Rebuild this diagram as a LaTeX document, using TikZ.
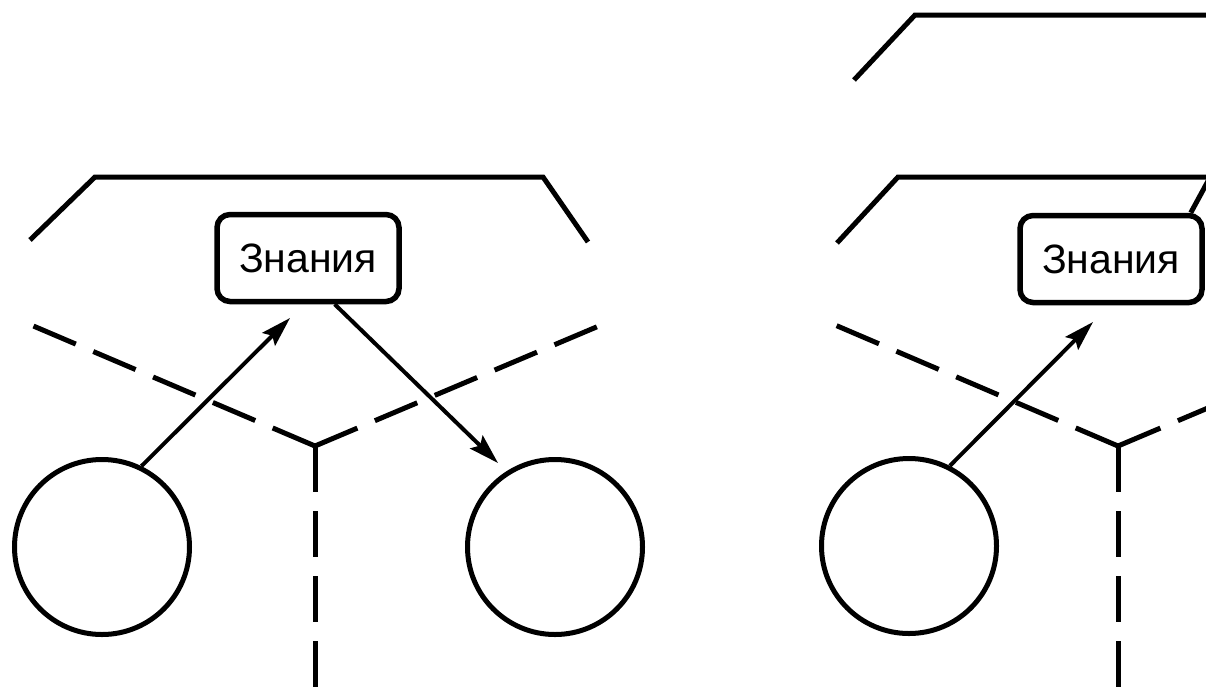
\documentclass[tikz,border=0pt]{standalone}
\usepackage{fontspec}
\setmainfont{Liberation Sans}
\usetikzlibrary{arrows.meta,calc}
\begin{document}
\begin{tikzpicture}[x=1pt,y=-1pt,
  solidline/.style={line width=5pt},
  dashline/.style={line width=5pt, dash pattern=on 46pt off 19pt},
  knowbox/.style={draw, line width=5.5pt, rounded corners=13pt, minimum width=182pt, minimum height=87pt, inner sep=0pt, font=\fontsize{41}{45}\selectfont},
  agent/.style={draw, circle, line width=5pt, minimum size=175pt, inner sep=0pt},
  arr/.style={line width=4pt, -{Stealth[length=30pt,width=18pt,inset=5pt]}}
]
\useasboundingbox (0,0) rectangle (1206,691);
\clip (0,0) rectangle (1206,691);

% knowledge boxes
\node[knowbox] (k1) at (308,258) {Знания};
\node[knowbox] (k2) at (1111,259) {Знания};

% agents
\node[agent] (c1) at (102,547) {};
\node[agent] (c2) at (555,547) {};
\node[agent] (c3) at (909,546) {};

% solid boundary lines
\draw[solidline] (30,240) -- (95,177) -- (543,177) -- (588,242);
\draw[solidline] (854,80) -- (915,15) -- (1215,15);
\draw[solidline] (837,243) -- (898,177) -- (1215,177);
\coordinate (e1) at (1214,170);
\draw[solidline] ($(k2.north east)+(-14,0)$) -- (e1);

% dashed partitions
\coordinate (v1) at (315,446);
\coordinate (l1) at (24,322);
\coordinate (r1) at (613,320);
\coordinate (b1) at (315,700);
\draw[dashline] (v1) -- (l1);
\draw[dashline] (v1) -- (r1);
\draw[dashline] (v1) -- (b1);
\coordinate (v2) at (1118,446);
\coordinate (l2) at (828,322);
\coordinate (r2) at (1215,405);
\coordinate (b2) at (1118,700);
\draw[dashline] (v2) -- (l2);
\draw[dashline] (v2) -- (r2);
\draw[dashline] (v2) -- (b2);

% arrows
\coordinate (t1) at (290,318);
\draw[arr] (c1.64) -- (t1);
\coordinate (t2) at (498,463);
\draw[arr] (k1.-60) -- (t2);
\coordinate (t3) at (1093,322);
\draw[arr] (c3.63) -- (t3);
\end{tikzpicture}
\end{document}
